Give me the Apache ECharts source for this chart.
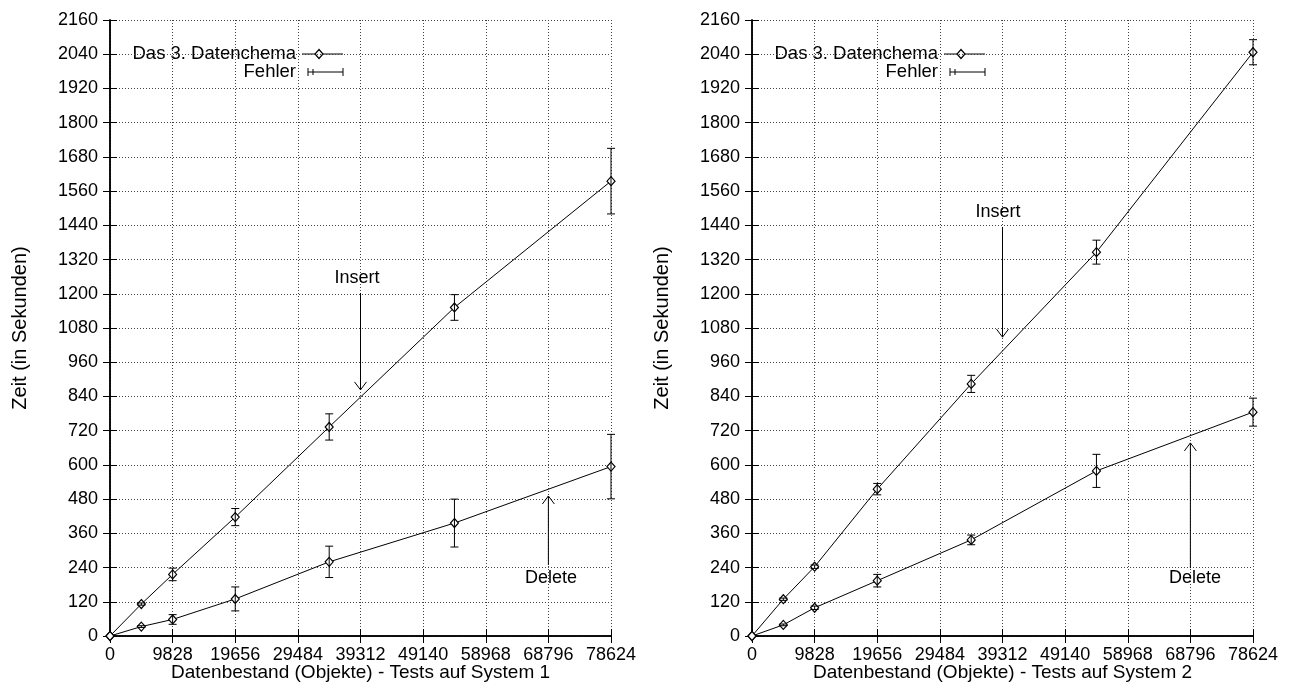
<!DOCTYPE html>
<html><head><meta charset="utf-8">
<script src="https://cdn.jsdelivr.net/npm/echarts@6/dist/echarts.min.js"></script>
<style>html,body{margin:0;padding:0;background:#fff}#c{width:1298px;height:682px}</style>
</head><body><div id="c"></div>
<script>
// ---------- data ----------
const xValues = [0, 4914, 9828, 19656, 34398, 54054, 78624];
const xMax = 78624, xStep = 9828;
const yMax = 2160, yStep = 120;

const insert1    = [0, 112, 216, 417, 733, 1152, 1595];
const insertErr1 = [0, 4, 22, 30, 46, 45, 115];
const delete1    = [0, 33, 58, 130, 260, 396, 594];
const deleteErr1 = [0, 3, 17, 42, 55, 84, 113];

const insert2    = [0, 129, 243, 515, 884, 1346, 2047];
const insertErr2 = [0, 4, 6, 20, 30, 42, 44];
const delete2    = [0, 39, 99, 194, 337, 579, 785];
const deleteErr2 = [0, 3, 6, 22, 17, 58, 49];

const xTitles = ['Datenbestand (Objekte) - Tests auf System 1', 'Datenbestand (Objekte) - Tests auf System 2'];
const yTitle = 'Zeit (in Sekunden)';
const seriesName = 'Das 3. Datenchema';
const errName = 'Fehler';

// arrows: [x, yFrom, yTo(head)]
const arrows1 = [[39312, 1203, 863], [68796, 249, 491]];
const arrows2 = [[39312, 1434, 1048], [68796, 238, 677]];
// annotation labels: [x, y]
const labelTexts = ['Insert', 'Delete'];
const labels1 = [[38762, 1255], [69200, 203]];
const labels2 = [[38605, 1487], [69520, 203]];

// ---------- chart ----------
const FONT = 'Liberation Sans, Arial, sans-serif';
const FS = 18;
const grids = [
  {left: 110, right: 687, top: 20, bottom: 46, outerBoundsMode: 'none', containLabel: false},
  {left: 752, right: 45, top: 20, bottom: 46, outerBoundsMode: 'none', containLabel: false}
];

function pairs(ys){ return xValues.map((x,i)=>[x, ys[i]]); }
function triples(ys, es){ return xValues.map((x,i)=>[x, ys[i], es[i]]); }

const tickStyle = {show: true, inside: true, length: 7, lineStyle: {color: '#000', width: 1}};
const axisLine = {show: true, lineStyle: {color: '#000', width: 1.5}};
const gridLine = {show: true, lineStyle: {color: '#444', width: 1, type: [1, 2]}};

const xAxes = [], yAxes = [];
[0,1].forEach(g => {
  xAxes.push({
    type: 'value', gridIndex: g, position: 'bottom', min: 0, max: xMax, interval: xStep,
    axisLine, axisTick: tickStyle, splitLine: gridLine,
    axisLabel: {color: '#000', fontFamily: FONT, fontSize: FS, margin: 10, formatter: v => String(v)},
    name: xTitles[g], nameLocation: 'middle', nameGap: 27, nameMoveOverlap: false,
    nameTextStyle: {color: '#000', fontFamily: FONT, fontSize: 19}
  });
  xAxes.push({
    type: 'value', gridIndex: g, position: 'top', min: 0, max: xMax, interval: xStep,
    axisLine, axisTick: tickStyle, splitLine: {show: false}, axisLabel: {show: false}
  });
  yAxes.push({
    type: 'value', gridIndex: g, position: 'left', min: 0, max: yMax, interval: yStep,
    axisLine, axisTick: tickStyle, splitLine: gridLine,
    axisLabel: {color: '#000', fontFamily: FONT, fontSize: FS, margin: 12, formatter: v => String(v)},
    name: yTitle, nameLocation: 'middle', nameGap: 80, nameMoveOverlap: false,
    nameTextStyle: {color: '#000', fontFamily: FONT, fontSize: 20}
  });
  yAxes.push({
    type: 'value', gridIndex: g, position: 'right', min: 0, max: yMax, interval: yStep,
    axisLine, axisTick: tickStyle, splitLine: {show: false}, axisLabel: {show: false}
  });
});

function lineSeries(ys, g){
  return {
    type: 'line', xAxisIndex: 2*g, yAxisIndex: 2*g, data: pairs(ys), clip: false,
    symbol: 'diamond', symbolSize: [8, 9], showAllSymbol: true,
    lineStyle: {color: '#000', width: 1},
    itemStyle: {color: '#fff', borderColor: '#000', borderWidth: 1.2},
    z: 3, silent: true, animation: false
  };
}
function errRender(params, api){
  const x = api.value(0), y = api.value(1), e = api.value(2);
  if (!e) return null;
  const t = api.coord([x, y + e]), b = api.coord([x, y - e]);
  const w = 4, st = {stroke: '#000', lineWidth: 1};
  return {type: 'group', children: [
    {type: 'line', shape: {x1: t[0], y1: t[1], x2: b[0], y2: b[1]}, style: st},
    {type: 'line', shape: {x1: t[0]-w, y1: t[1], x2: t[0]+w, y2: t[1]}, style: st},
    {type: 'line', shape: {x1: b[0]-w, y1: b[1], x2: b[0]+w, y2: b[1]}, style: st}
  ]};
}
function errSeries(ys, es, g){
  return {type: 'custom', xAxisIndex: 2*g, yAxisIndex: 2*g, data: triples(ys, es),
    renderItem: errRender, clip: false, z: 4, silent: true, animation: false};
}
function arrowRender(params, api){
  const x = api.value(0), y1 = api.value(1), y2 = api.value(2);
  const a = api.coord([x, y1]), b = api.coord([x, y2]);
  const dir = b[1] > a[1] ? 1 : -1, hl = 8, hw = 6;
  const st = {stroke: '#000', lineWidth: 1, fill: null};
  return {type: 'group', children: [
    {type: 'line', shape: {x1: a[0], y1: a[1], x2: b[0], y2: b[1]}, style: st},
    {type: 'polyline', shape: {points: [[b[0]-hw, b[1]-dir*hl], [b[0], b[1]], [b[0]+hw, b[1]-dir*hl]]}, style: st}
  ]};
}
function arrowSeries(arr, g){
  return {type: 'custom', xAxisIndex: 2*g, yAxisIndex: 2*g, data: arr,
    renderItem: arrowRender, clip: false, z: 5, silent: true, animation: false};
}
function labelSeries(arr, g){
  return {type: 'custom', xAxisIndex: 2*g, yAxisIndex: 2*g, data: arr, clip: false, z: 5, silent: true, animation: false,
    renderItem: (params, api) => {
      const p = api.coord([api.value(0), api.value(1)]);
      return {type: 'text', x: p[0], y: p[1], style: {text: labelTexts[params.dataIndex], fill: '#000',
        font: FS + 'px ' + FONT, align: 'center', verticalAlign: 'middle'}};
    }};
}

function legendGraphic(plotLeft){
  const tx = plotLeft + 186, y1 = 54, y2 = 72;
  const st = {stroke: '#000', lineWidth: 1};
  const dx = tx + 23;
  const lf = '18.5px ' + FONT;
  return {type: 'group', children: [
    {type: 'text', x: tx, y: y1, style: {text: seriesName, font: lf, fill: '#000', align: 'right', verticalAlign: 'middle'}},
    {type: 'line', shape: {x1: tx + 6, y1: y1, x2: tx + 47, y2: y1}, style: st},
    {type: 'polygon', shape: {points: [[dx, y1-4.5], [dx+4, y1], [dx, y1+4.5], [dx-4, y1]]}, style: {stroke: '#000', fill: '#fff', lineWidth: 1.2}},
    {type: 'text', x: tx, y: y2, style: {text: errName, font: lf, fill: '#000', align: 'right', verticalAlign: 'middle'}},
    {type: 'line', shape: {x1: tx + 12, y1: y2, x2: tx + 47, y2: y2}, style: st},
    {type: 'line', shape: {x1: tx + 12, y1: y2-4, x2: tx + 12, y2: y2+4}, style: st},
    {type: 'line', shape: {x1: tx + 17, y1: y2-3, x2: tx + 17, y2: y2+3}, style: st},
    {type: 'line', shape: {x1: tx + 47, y1: y2-4, x2: tx + 47, y2: y2+4}, style: st}
  ]};
}

const chart = echarts.init(document.getElementById('c'), null, {renderer: 'canvas'});
chart.setOption({
  animation: false,
  backgroundColor: '#fff',
  grid: grids,
  xAxis: xAxes,
  yAxis: yAxes,
  series: [
    lineSeries(insert1, 0), errSeries(insert1, insertErr1, 0),
    lineSeries(delete1, 0), errSeries(delete1, deleteErr1, 0),
    arrowSeries(arrows1, 0), labelSeries(labels1, 0),
    lineSeries(insert2, 1), errSeries(insert2, insertErr2, 1),
    lineSeries(delete2, 1), errSeries(delete2, deleteErr2, 1),
    arrowSeries(arrows2, 1), labelSeries(labels2, 1)
  ],
  graphic: [legendGraphic(110), legendGraphic(752)]
});
</script></body></html>
